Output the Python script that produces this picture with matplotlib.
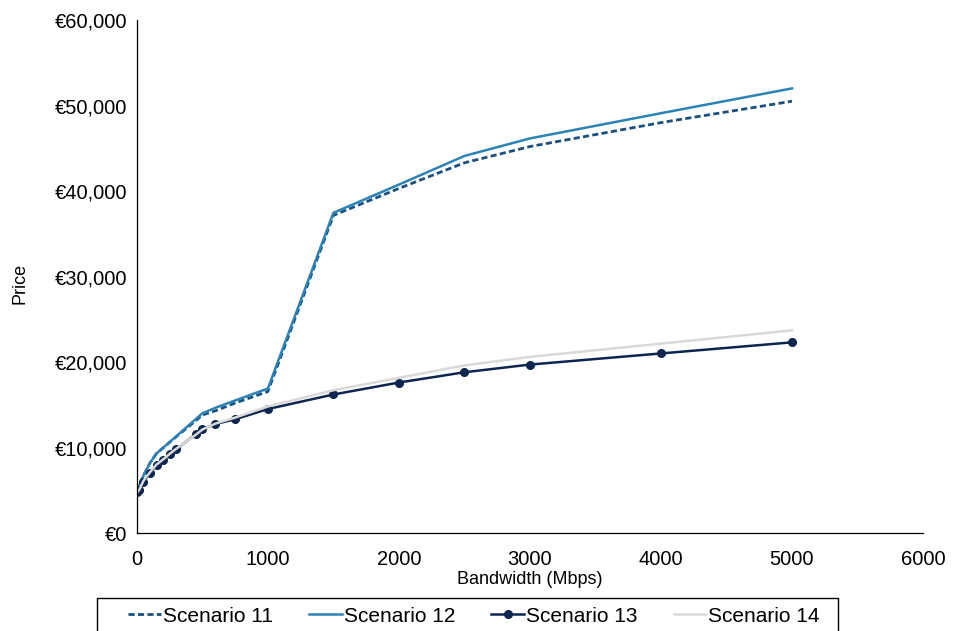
import numpy as np
import matplotlib
matplotlib.use("Agg")
import matplotlib.pyplot as plt
from matplotlib.ticker import FuncFormatter
from matplotlib.patches import Rectangle

plt.rcParams['font.family'] = ['Liberation Sans', 'DejaVu Sans']

# bandwidth points (Mbps)
bandwidth = [2, 20, 50, 100, 150, 200, 250, 300, 450, 500, 600, 750,
             1000, 1500, 2000, 2500, 3000, 4000, 5000]

# prices per scenario (EUR)
scenario_11 = [4800, 5600, 6700, 8200, 9300, 9950, 10600, 11250, 13150, 13800,
               14300, 15200, 16550, 37150, 40300, 43300, 45200, 48000, 50500]
scenario_12 = [4800, 5600, 6700, 8200, 9300, 9970, 10640, 11310, 13330, 14000,
               14650, 15500, 16900, 37450, 40750, 44100, 46150, 49100, 52000]
scenario_13 = [4800, 5000, 6000, 7000, 7950, 8550, 9200, 9800, 11550, 12150,
               12750, 13300, 14500, 16200, 17600, 18800, 19700, 21000, 22300]
scenario_14 = [4700, 5100, 6100, 7100, 8000, 8600, 9250, 9850, 11500, 12100,
               12800, 13500, 14800, 16700, 18150, 19600, 20600, 22150, 23700]

fig = plt.figure(figsize=(9.57, 6.31), dpi=100)
ax = fig.add_axes([0.143, 0.1553, 0.8215, 0.813])

ax.plot(bandwidth, scenario_11, color='#1b4f7e', lw=2, ls=(0, (2.2, 1.2)), label='Scenario 11')
ax.plot(bandwidth, scenario_12, color='#2b83b6', lw=1.8, label='Scenario 12')
ax.plot(bandwidth, scenario_13, color='#0c2650', lw=1.8, marker='o', ms=5.5, label='Scenario 13')
ax.plot(bandwidth, scenario_14, color='#d9d9d9', lw=1.8, label='Scenario 14')

ax.set_xlim(0, 6000)
ax.set_ylim(0, 60000)
ax.set_xticks(np.arange(0, 6001, 1000))
ax.set_yticks(np.arange(0, 60001, 10000))
ax.yaxis.set_major_formatter(FuncFormatter(lambda v, p: '€{:,.0f}'.format(v)))
ax.tick_params(axis='both', length=0, labelsize=14.5, colors='#000000')
ax.tick_params(axis='x', pad=12)
ax.tick_params(axis='y', pad=7)

for s in ['top', 'right']:
    ax.spines[s].set_visible(False)
for s in ['left', 'bottom']:
    ax.spines[s].set_color('#000000')
    ax.spines[s].set_linewidth(0.9)

# axis titles
fig.text(530 / 957, 1 - 579 / 631, 'Bandwidth (Mbps)', fontsize=13, ha='center', va='center')
fig.text(20 / 957, 1 - 283 / 631, 'Price', fontsize=13, rotation=90, ha='center', va='center')

# legend, box drawn separately (runs off the bottom edge)
leg = fig.legend(loc='center', bbox_to_anchor=(474 / 957, 1 - 616 / 631),
                 ncol=4, fontsize=15, frameon=False,
                 handlelength=1.55, handletextpad=0.1, columnspacing=1.75,
                 borderpad=0, borderaxespad=0)
fig.patches.append(Rectangle((97 / 957, -0.02), (838 - 97) / 957, 0.02 + 33 / 631,
                             transform=fig.transFigure, fill=False,
                             edgecolor='#000000', linewidth=1.0))

fig.savefig('out.png', dpi=100)
